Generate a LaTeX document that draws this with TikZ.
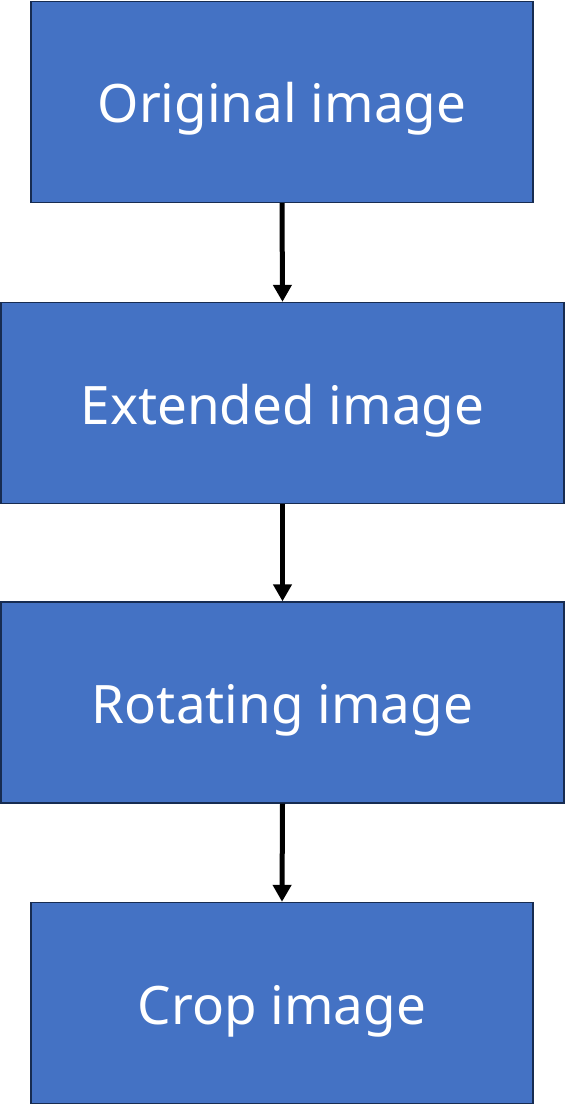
\documentclass[tikz,border=0pt]{standalone}
\usepackage{fontspec}
\setmainfont{Noto Sans}
\definecolor{boxfill}{HTML}{4472C4}
\definecolor{boxstroke}{HTML}{172C51}
\usetikzlibrary{arrows.meta, positioning}

\begin{document}
\begin{tikzpicture}[x=1pt, y=1pt, >={Triangle[length=17pt, width=18pt]},
  stepbox/.style={fill=boxfill, draw=boxstroke, line width=1.4pt, text=white,
    font=\fontsize{53}{60}\selectfont, inner sep=0pt, minimum height=201pt,
    text height=42pt, text depth=0pt},
  flowarrow/.style={->, line width=5pt, black}]
  \useasboundingbox (0,0) rectangle (565,-1105);
  % boxes
  \node[stepbox, minimum width=502pt] (orig) at (282,-102) {Original image};
  \node[stepbox, minimum width=563pt] (ext) at (282.5,-403) {Extended image};
  \node[stepbox, minimum width=563pt] (rot) at (282.5,-702.5) {Rotating image};
  \node[stepbox, minimum width=502pt] (crop) at (282,-1003) {Crop image};
  % arrows
  \draw[flowarrow] (orig.south) -- (ext.north);
  \draw[flowarrow] (ext.south) -- (rot.north);
  \draw[flowarrow] (rot.south) -- (crop.north);
\end{tikzpicture}
\end{document}
